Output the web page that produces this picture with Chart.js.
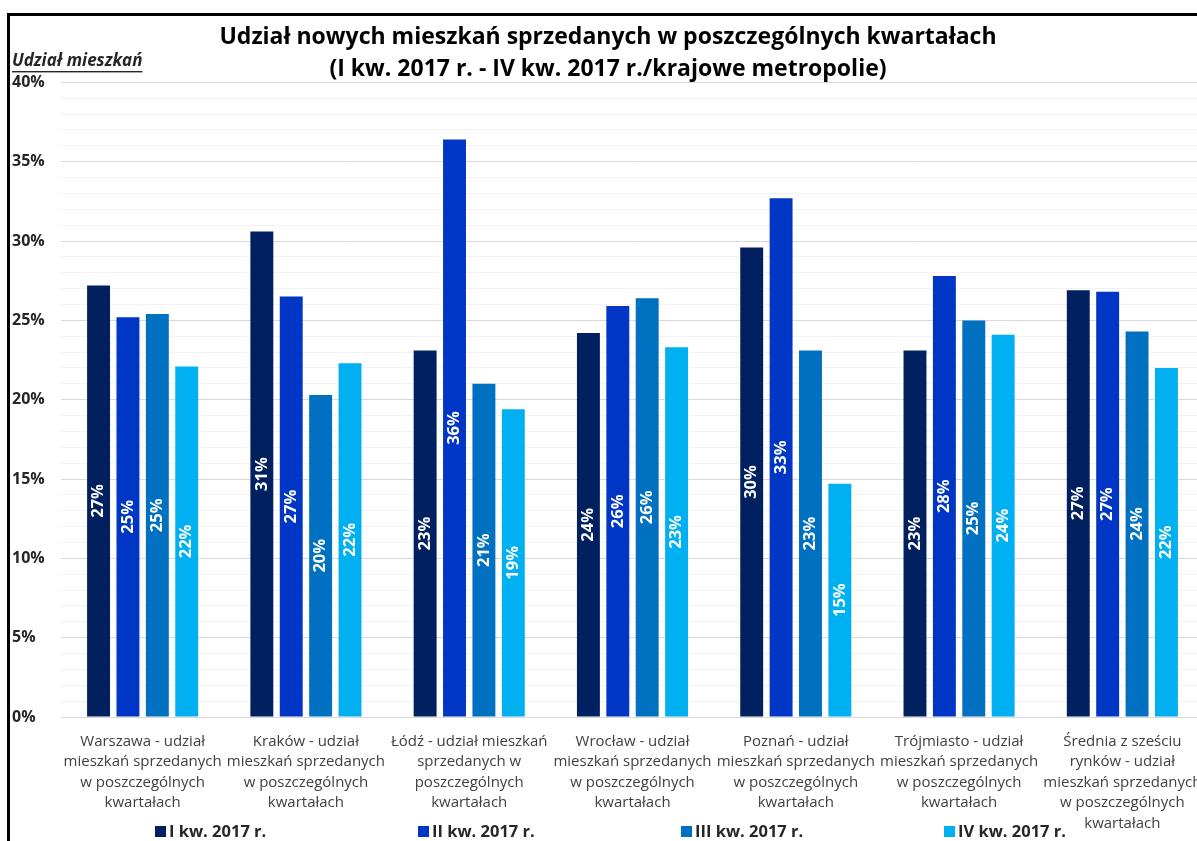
<!DOCTYPE html>
<html>
<head>
<meta charset="utf-8">
<script src="https://cdn.jsdelivr.net/npm/chart.js@4"></script>
<style>
  html, body { margin: 0; padding: 0; background: #fff; overflow: hidden; }
  #frame {
    position: absolute; left: 7px; top: 13px;
    width: 1200px; height: 828px;
    border-left: 3px solid #000; border-top: 3px solid #000;
  }
</style>
</head>
<body>
<div id="frame"><canvas id="chart"></canvas></div>
<script>
'use strict';

const categories = [
  ['Warszawa - udział', 'mieszkań sprzedanych', 'w poszczególnych', 'kwartałach'],
  ['Kraków - udział', 'mieszkań sprzedanych', 'w poszczególnych', 'kwartałach'],
  ['Łódź - udział mieszkań', 'sprzedanych w', 'poszczególnych', 'kwartałach'],
  ['Wrocław - udział', 'mieszkań sprzedanych', 'w poszczególnych', 'kwartałach'],
  ['Poznań - udział', 'mieszkań sprzedanych', 'w poszczególnych', 'kwartałach'],
  ['Trójmiasto - udział', 'mieszkań sprzedanych', 'w poszczególnych', 'kwartałach'],
  ['Średnia z sześciu', 'rynków - udział', 'mieszkań sprzedanych', 'w poszczególnych', 'kwartałach']
];
const seriesNames = ['I kw. 2017 r.', 'II kw. 2017 r.', 'III kw. 2017 r.', 'IV kw. 2017 r.'];
const q1 = [27.2, 30.6, 23.1, 24.2, 29.6, 23.1, 26.9];
const q2 = [25.2, 26.5, 36.4, 25.9, 32.7, 27.8, 26.8];
const q3 = [25.4, 20.3, 21.0, 26.4, 23.1, 25.0, 24.3];
const q4 = [22.1, 22.3, 19.4, 23.3, 14.7, 24.1, 22.0];
const colors = ['#002060', '#0036C6', '#0070C0', '#00B0F0'];

const FONT = '"Open Sans", "Noto Sans", sans-serif';

// values inside bars, legend row and the y axis caption
const extras = {
  id: 'extras',
  afterDatasetsDraw(chart) {
    const ctx = chart.ctx;
    ctx.save();
    ctx.font = 'bold 16.5px ' + FONT;
    ctx.fillStyle = '#fff';
    ctx.textAlign = 'center';
    ctx.textBaseline = 'middle';
    chart.data.datasets.forEach((ds, i) => {
      chart.getDatasetMeta(i).data.forEach((bar, j) => {
        ctx.save();
        ctx.translate(bar.x, (bar.y + bar.base) / 2);
        ctx.rotate(-Math.PI / 2);
        ctx.fillText(Math.round(ds.data[j]) + '%', 0, 0);
        ctx.restore();
      });
    });
    ctx.restore();
  },
  afterDraw(chart) {
    const ctx = chart.ctx;
    const area = chart.chartArea;
    ctx.save();
    // legend
    ctx.font = 'bold 16.5px ' + FONT;
    ctx.textBaseline = 'middle';
    ctx.textAlign = 'left';
    const y = 815;
    chart.data.datasets.forEach((ds, i) => {
      const x = area.left + 94 + i * 263;
      ctx.fillStyle = ds.backgroundColor;
      ctx.fillRect(x, y - 5, 11, 11);
      ctx.fillStyle = '#262626';
      ctx.fillText(ds.label, x + 14, y + 1);
    });
    // axis caption
    ctx.font = 'italic bold 17px ' + FONT;
    ctx.fillStyle = '#262626';
    const cap = 'Udział mieszkań';
    ctx.fillText(cap, 2, 45);
    const w = ctx.measureText(cap).width;
    ctx.fillRect(2, 55, w, 1.4);
    ctx.restore();
  }
};

const ctx = document.getElementById('chart').getContext('2d');
const chart = new Chart(ctx, {
  type: 'bar',
  data: {
    labels: categories,
    datasets: [q1, q2, q3, q4].map((d, i) => ({
      label: seriesNames[i],
      data: d,
      backgroundColor: colors[i],
      categoryPercentage: 0.72,
      barPercentage: 0.78
    }))
  },
  options: {
    responsive: true,
    maintainAspectRatio: false,
    animation: false,
    layout: { padding: { left: 2, right: 6, top: 0, bottom: 0 } },
    plugins: {
      legend: { display: false },
      tooltip: { enabled: false },
      title: {
        display: true,
        text: ['Udział nowych mieszkań sprzedanych w poszczególnych kwartałach',
               '(I kw. 2017 r. - IV kw. 2017 r./krajowe metropolie)'],
        color: '#000',
        font: { family: FONT, size: 23, weight: 'bold', lineHeight: 1.4 },
        padding: { top: 5, bottom: -3 }
      }
    },
    scales: {
      x: {
        grid: { display: false },
        border: { display: false },
        ticks: {
          color: '#404040',
          font: { family: FONT, size: 15, lineHeight: 1.37 },
          maxRotation: 0,
          autoSkip: false,
          padding: 6
        },
        afterFit(scale) { scale.height = 127; }
      },
      y: {
        min: 0,
        max: 40,
        border: { display: false },
        grid: {
          drawTicks: false,
          color: c => (c.tick.value % 5 === 0 ? '#d9d9d9' : '#f2f2f2'),
          lineWidth: 1
        },
        ticks: {
          stepSize: 1,
          maxTicksLimit: 41,
          autoSkip: false,
          crossAlign: 'far',
          padding: 10,
          color: '#262626',
          font: { family: FONT, size: 16, weight: 'bold' },
          callback: v => (v % 5 === 0 ? v + '%' : '')
        },
        afterFit(scale) { scale.width = 49; }
      }
    }
  },
  plugins: [extras]
});
</script>
</body>
</html>
